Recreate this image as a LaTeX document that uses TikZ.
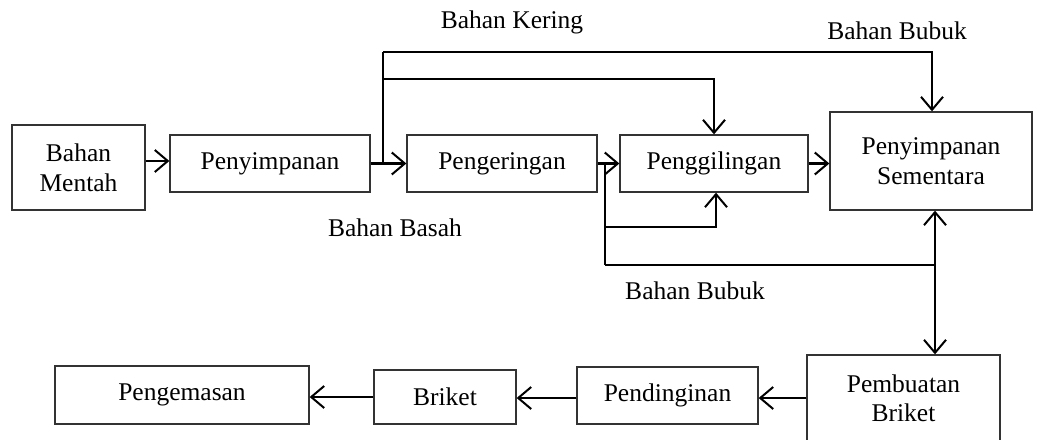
\documentclass[tikz,border=0pt]{standalone}
\usepackage{fontspec}
\setmainfont{Liberation Serif}
\usetikzlibrary{arrows.meta}
\begin{document}
\begin{tikzpicture}[x=1pt,y=-1pt,
  box/.style={draw=black!80, line width=1.3pt, inner sep=0pt, align=center,
    font=\fontsize{25.5}{30}\selectfont},
  lbl/.style={inner sep=0pt, font=\fontsize{25.5}{30}\selectfont},
  conn/.style={line width=2.4pt},
  arr/.style={conn, -{Straight Barb[length=13pt,width=22pt,line width=2pt]}}]
\useasboundingbox (0,0) rectangle (1040,439);
\node[box, minimum width=133pt, minimum height=85pt] (mentah) at (78.5,167.5) {Bahan\\Mentah};
\node[box, minimum width=200pt, minimum height=57pt] (simpan) at (270,163.5) {Penyimpanan};
\node[box, minimum width=190pt, minimum height=57pt] (kering) at (502,163.5) {Pengeringan};
\node[box, minimum width=188pt, minimum height=57pt] (giling) at (714,163.5) {Penggilingan};
\node[box, minimum width=202pt, minimum height=98pt] (sementara) at (931,161) {Penyimpanan\\Sementara};
\node[box, minimum width=254pt, minimum height=58pt] (kemas) at (182,395) {Pengemasan};
\node[box, minimum width=142pt, minimum height=54pt] (briket) at (445,397) {Briket};
\node[box, minimum width=181pt, minimum height=57pt] (dingin) at (667.5,395.5) {Pendinginan};
\node[box, minimum width=193pt, minimum height=100pt] (buat) at (903.5,405) {};
\node[lbl, align=center, font=\fontsize{25.5}{29}\selectfont] (buattxt) at (903.5,398) {Pembuatan\\Briket};

\node[lbl] (lkering) at (512,22) {Bahan Kering};
\node[lbl] (lbubuk1) at (897,31) {Bahan Bubuk};
\node[lbl] (lbasah) at (395,228) {Bahan Basah};
\node[lbl] (lbubuk2) at (695,291) {Bahan Bubuk};

\coordinate (j1) at (383,163.5);
\coordinate (j2) at (605,163.5);
\coordinate (top1) at (383,52);
\coordinate (top2) at (383,79);
\coordinate (low1) at (605,227);
\coordinate (low2) at (605,265);
\coordinate (v) at (935,265);
\coordinate (m) at (145,161);

\draw[arr] (mentah.east |- m) -- (simpan.west |- m);
\draw[arr] (simpan.east) -- (kering.west);
\draw[conn] (j1) -- (top1);
\draw[arr] (top1) -| ([xshift=1pt]sementara.north);
\draw[arr] (top2) -| (giling.north);
\draw[arr] (kering.east) -- (giling.west);
\draw[conn] (j2) -- (low2);
\draw[arr] (low1) -| ([xshift=2pt]giling.south);
\draw[conn] (low2) -- (v);
\draw[arr] (v) -- (sementara.south -| v);
\draw[arr] (v) -- (buat.north -| v);
\draw[arr] (giling.east) -- (sementara.west |- giling.east);
\draw[arr] (buat.west |- buattxt) -- (dingin.east |- buattxt);
\draw[arr] (dingin.west |- buattxt) -- (briket.east |- buattxt);
\draw[arr] (briket.west) -- (kemas.east |- briket.west);
\end{tikzpicture}
\end{document}
